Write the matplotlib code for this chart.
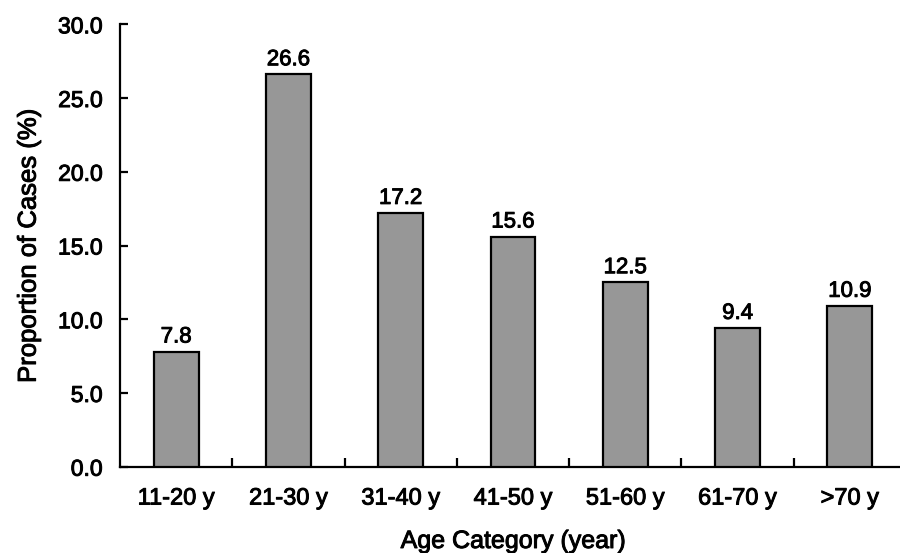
import matplotlib
matplotlib.use("Agg")
import matplotlib.pyplot as plt
import matplotlib.patheffects as pe
from matplotlib.ticker import FixedLocator, FormatStrFormatter, NullFormatter

categories = ["11-20 y", "21-30 y", "31-40 y", "41-50 y", "51-60 y", "61-70 y", ">70 y"]
values = [7.8, 26.6, 17.2, 15.6, 12.5, 9.4, 10.9]
y_ticks = [0, 5, 10, 15, 20, 25, 30]

plt.rcParams['font.family'] = ['Liberation Sans', 'DejaVu Sans']
heavy = [pe.withStroke(linewidth=0.7, foreground="black")]

fig = plt.figure(figsize=(9.0, 5.53), dpi=100)
ax = fig.add_axes([120/900, (553-466.7)/553, (906-120)/900, (466.7-24.3)/553])

x = list(range(len(categories)))
bars = ax.bar(x, values, width=0.4, color="#979797", edgecolor="black", linewidth=1.6, zorder=3)
labels = ax.bar_label(bars, fmt="%.1f", padding=3, fontsize=16, color="black")
for t in labels:
    t.set_path_effects(heavy)

ax.set_xlim(-0.5, len(categories) - 0.5)
ax.set_ylim(0, 30)

for s in ("top", "right"):
    ax.spines[s].set_visible(False)
for s in ("left", "bottom"):
    ax.spines[s].set_linewidth(1.6)
    ax.spines[s].set_color("black")

ax.set_yticks(y_ticks)
ax.yaxis.set_major_formatter(FormatStrFormatter("%.1f"))
ax.tick_params(axis="y", direction="in", length=5.5, width=1.6, pad=12.5, labelsize=16.5)

ax.set_xticks(x)
ax.set_xticklabels(categories)
ax.xaxis.set_minor_locator(FixedLocator([i + 0.5 for i in range(len(categories))]))
ax.xaxis.set_minor_formatter(NullFormatter())
ax.tick_params(axis="x", which="major", length=0, pad=15, labelsize=17)
ax.tick_params(axis="x", which="minor", direction="in", length=6.5, width=1.6)

ax.set_xlabel("Age Category (year)", fontsize=18, labelpad=14)
ax.set_ylabel("Proportion of Cases (%)", fontsize=18.5, labelpad=12.5)

for t in ax.get_xticklabels() + ax.get_yticklabels() + [ax.xaxis.label, ax.yaxis.label]:
    t.set_path_effects(heavy)

fig.savefig("out.png", dpi=100)
